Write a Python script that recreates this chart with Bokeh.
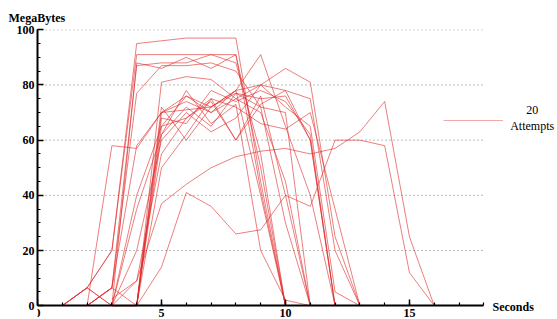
from bokeh.plotting import figure
from bokeh.models import LinearAxis, SingleIntervalTicker, Legend, LegendItem, Label
from bokeh.embed import file_html
from bokeh.resources import INLINE

# Transfer of 20 download attempts: MegaBytes per second
a01_start, a01 = 1, [0, 6.5, 20, 95, 96, 97, 97, 97, 45, 0]
a02_start, a02 = 1, [0, 6.5, 20, 91, 91, 91, 91, 91, 42, 0]
a03_start, a03 = 1, [0, 6.5, 0, 88, 86, 90, 86, 91, 50, 0]
a04_start, a04 = 2, [0, 6.5, 87, 88, 88, 91, 88, 55, 0]
a05_start, a05 = 2, [0, 6.5, 77, 87, 87, 88, 85, 72, 30, 0]
a06_start, a06 = 2, [0, 58, 57, 70, 74, 70, 75, 80, 78, 60, 0]
a07_start, a07 = 3, [0, 0, 81, 83, 82, 75, 70, 45, 0]
a08_start, a08 = 3, [0, 0, 70, 71, 72, 78, 91, 65, 40, 0]
a09_start, a09 = 3, [0, 0, 68, 66, 78, 74, 78, 74, 62, 0]
a10_start, a10 = 2, [0, 6.5, 0, 62, 72, 65, 77, 75, 76, 60, 0]
a11_start, a11 = 3, [0, 40, 65, 76, 70, 78, 80, 86, 81, 25, 0]
a12_start, a12 = 3, [0, 9, 55, 68, 75, 60, 73, 78, 75, 20, 0]
a13_start, a13 = 3, [0, 20, 60, 70, 63, 68, 80, 72, 65, 5, 0]
a14_start, a14 = 4, [0, 50, 62, 75, 72, 66, 64, 70, 35, 0]
a15_start, a15 = 4, [0, 14, 41, 36, 26, 27.5, 40, 36, 60, 60, 58, 12, 0]
a16_start, a16 = 3, [2.5, 9, 37, 44, 50, 54, 56, 57, 55, 57, 63, 74, 25, 0]
a17_start, a17 = 4, [0, 65, 68, 74, 60, 76, 40, 0]
a18_start, a18 = 4, [0, 72, 60, 72, 77, 72, 70, 0]
a19_start, a19 = 2, [0, 6.5, 58, 70, 76, 72, 78, 40, 0]
a20_start, a20 = 1, [0, 6.5, 0, 35, 62, 78, 66, 73, 20, 2, 0]

grid_levels = [20, 40, 60, 80, 100]
legend_text = "20\nAttempts"

attempts = [
    (a01_start, a01), (a02_start, a02), (a03_start, a03), (a04_start, a04),
    (a05_start, a05), (a06_start, a06), (a07_start, a07), (a08_start, a08),
    (a09_start, a09), (a10_start, a10), (a11_start, a11), (a12_start, a12),
    (a13_start, a13), (a14_start, a14), (a15_start, a15), (a16_start, a16),
    (a17_start, a17), (a18_start, a18), (a19_start, a19), (a20_start, a20),
]

FONT = "Liberation Serif"
LINE_COLOR = "#e02828"

p = figure(width=557, height=319, x_range=(0, 20.97), y_range=(-5.0, 100.1),
           output_backend="svg", toolbar_location=None,
           x_axis_type=None, y_axis_type=None,
           min_border_left=37, min_border_right=0, min_border_top=29, min_border_bottom=0,
           title="MegaBytes")
p.outline_line_color = None
p.background_fill_color = "white"
p.title.align = "left"
p.title.offset = -29
p.title.standoff = 9
p.title.text_font = FONT
p.title.text_font_style = "bold"
p.title.text_font_size = "12px"
p.title.text_color = "black"

# dotted grid
p.segment(x0=0, y0=grid_levels, x1=18, y1=grid_levels, line_dash="1 3",
          line_color="#777777", line_width=1)

for start, vals in attempts:
    xs = list(range(start, start + len(vals)))
    p.line(xs, vals, line_color=LINE_COLOR, line_alpha=0.6, line_width=1)

legend_swatch = p.line([float("nan")], [float("nan")], line_color=LINE_COLOR,
                       line_alpha=0.4, line_width=1.2)

xaxis = LinearAxis(ticker=SingleIntervalTicker(interval=5, num_minor_ticks=5),
                   bounds=(0, 18), fixed_location=0)
yaxis = LinearAxis(ticker=SingleIntervalTicker(interval=20, num_minor_ticks=4), bounds=(0, 100))
for ax in (xaxis, yaxis):
    ax.axis_line_width = 2
    ax.axis_line_color = "black"
    ax.major_tick_in = 6
    ax.major_tick_out = 0
    ax.minor_tick_in = 3
    ax.minor_tick_out = 0
    ax.major_tick_line_width = 1.5
    ax.minor_tick_line_width = 1.2
    ax.major_label_text_font = FONT
    ax.major_label_text_font_style = "bold"
    ax.major_label_text_font_size = "12px"
    ax.major_label_text_color = "black"
    ax.major_label_standoff = 3
p.add_layout(xaxis, "below")
p.add_layout(yaxis, "left")

p.add_layout(Label(x=18.35, y=0, text="Seconds", text_baseline="middle", y_offset=-1,
                   text_font=FONT, text_font_style="bold", text_font_size="12px",
                   text_color="black"))

legend = Legend(items=[LegendItem(label="", renderers=[legend_swatch])],
                location=(406, 189), glyph_width=60, label_standoff=0, padding=0,
                margin=0, border_line_alpha=0, background_fill_alpha=0,
                label_text_font_size="1px")
p.add_layout(legend)

p.add_layout(Label(x=19.95, y=68.0, text=legend_text, text_align="center",
                   text_baseline="middle", text_font=FONT, text_font_size="12px",
                   text_color="black", text_line_height=1.15))

open("out.html", "w").write(file_html(p, INLINE))
